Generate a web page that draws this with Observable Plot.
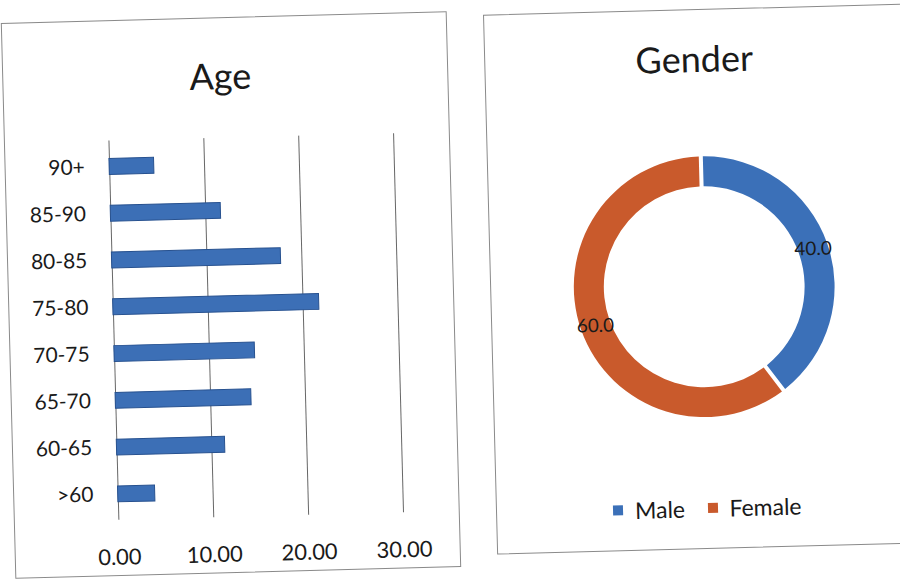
<!DOCTYPE html>
<html>
<head>
<meta charset="utf-8">
<script src="https://cdn.jsdelivr.net/npm/d3@7"></script>
<script src="https://cdn.jsdelivr.net/npm/@observablehq/plot@0.6"></script>
<style>
  html, body { margin: 0; padding: 0; background: #ffffff; }
  body { width: 900px; height: 582px; overflow: hidden; position: relative; font-family: Lato, "Open Sans", sans-serif; color: #1a1a1a; }
  .panel { position: absolute; border: 1px solid #8a8a8a; background: #ffffff; box-sizing: border-box; }
  #agePanel { left: 8px; top: 17px; width: 446px; height: 556px; transform: rotate(-1.5deg); }
  #genderPanel { left: 490px; top: 9px; width: 430px; height: 540px; transform: rotate(-1.5deg); }
  .panel > svg { position: absolute; left: 0; top: 0; }
  .title { position: absolute; font-size: 36px; line-height: 36px; text-align: center; white-space: nowrap; }
  #ageTitle { left: 0; width: 434px; top: 39px; }
  #genderTitle { left: 0; width: 418px; top: 30px; }
  #genderLegend { position: absolute; left: 0; width: 444px; top: 481px; display: flex; justify-content: center; }
</style>
</head>
<body>
<div class="panel" id="agePanel"><div class="title" id="ageTitle">Age</div></div>
<div class="panel" id="genderPanel"><div class="title" id="genderTitle">Gender</div><div id="genderLegend"></div></div>
<script>
// Age distribution (% of respondents), listed top to bottom
const ageGroups = ["90+", "85-90", "80-85", "75-80", "70-75", "65-70", "60-65", ">60"];
const agePercent = [4.7, 11.6, 17.8, 21.7, 14.8, 14.3, 11.4, 3.9];
const ageTicks = [0, 10, 20, 30];

// Gender split (%)
const genders = ["Male", "Female"];
const genderPercent = [40.0, 60.0];
const genderColors = ["#3b70b8", "#c95a2c"];

const ageRows = ageGroups.map((group, i) => ({group, percent: agePercent[i]}));
const genderRows = genders.map((gender, i) => ({gender, percent: genderPercent[i]}));

const baseStyle = {fontFamily: "Lato, 'Open Sans', sans-serif", color: "#1a1a1a", background: "transparent", overflow: "visible"};

// Horizontal bar chart of age groups
const agePlot = Plot.plot({
  width: 446,
  height: 556,
  marginLeft: 104,
  marginRight: 56,
  marginTop: 120,
  marginBottom: 55,
  style: {...baseStyle, fontSize: "21px"},
  x: {domain: [0, 30]},
  y: {domain: ageGroups, paddingInner: 0.66, paddingOuter: 0.34},
  marks: [
    Plot.gridX(ageTicks, {stroke: "#555555", strokeOpacity: 0.9, strokeWidth: 1}),
    Plot.barX(ageRows, {x: "percent", y: "group", fill: "#3c6fb6", stroke: "#27518f", strokeWidth: 1}),
    Plot.axisX(ageTicks, {tickSize: 0, tickPadding: 29, tickFormat: d3.format(".2f"), fontSize: 22, label: null}),
    Plot.axisY({tickSize: 0, tickPadding: 25, fontSize: 21, label: null})
  ]
});
document.getElementById("agePanel").appendChild(agePlot);

// Doughnut: slices laid out with d3.pie, coloured through Plot's color scale
function ringRender(index, scales, values, dimensions) {
  const {width, height, marginLeft, marginRight, marginTop, marginBottom} = dimensions;
  const cx = (marginLeft + width - marginRight) / 2;
  const cy = (marginTop + height - marginBottom) / 2;
  const outer = Math.min(width - marginLeft - marginRight, height - marginTop - marginBottom) / 2;
  const inner = outer * 0.77;
  const mid = (inner + outer) / 2;
  const slices = d3.pie().sort(null).value(i => genderRows[i].percent)(Array.from(index));
  const arc = d3.arc().innerRadius(inner).outerRadius(outer).padAngle(0.035).padRadius(mid);
  const labelArc = d3.arc().innerRadius(mid).outerRadius(mid);
  const g = d3.create("svg:g").attr("transform", `translate(${cx},${cy})`);
  g.selectAll("path")
    .data(slices)
    .join("path")
      .attr("d", arc)
      .attr("fill", d => values.fill[d.data]);
  g.selectAll("text")
    .data(slices)
    .join("text")
      .attr("transform", d => `translate(${labelArc.centroid(d)})`)
      .attr("text-anchor", "middle")
      .attr("dy", "0.36em")
      .attr("font-size", 19)
      .attr("fill", "#1a1a1a")
      .text(d => d3.format(".1f")(genderRows[d.data].percent));
  return g.node();
}

const genderPlot = Plot.plot({
  width: 430,
  height: 540,
  marginLeft: 83,
  marginRight: 85,
  marginTop: 147,
  marginBottom: 131,
  style: {...baseStyle, fontSize: "19px"},
  color: {domain: genders, range: genderColors},
  marks: [
    Plot.dot(genderRows, {fill: "gender", frameAnchor: "middle", r: 5, render: ringRender})
  ]
});
document.getElementById("genderPanel").appendChild(genderPlot);

const legend = genderPlot.legend("color", {
  swatchSize: 10,
  style: {fontSize: "23px", fontFamily: "Lato, 'Open Sans', sans-serif", color: "#1a1a1a", margin: "0"}
});
document.getElementById("genderLegend").appendChild(legend);
</script>
</body>
</html>
